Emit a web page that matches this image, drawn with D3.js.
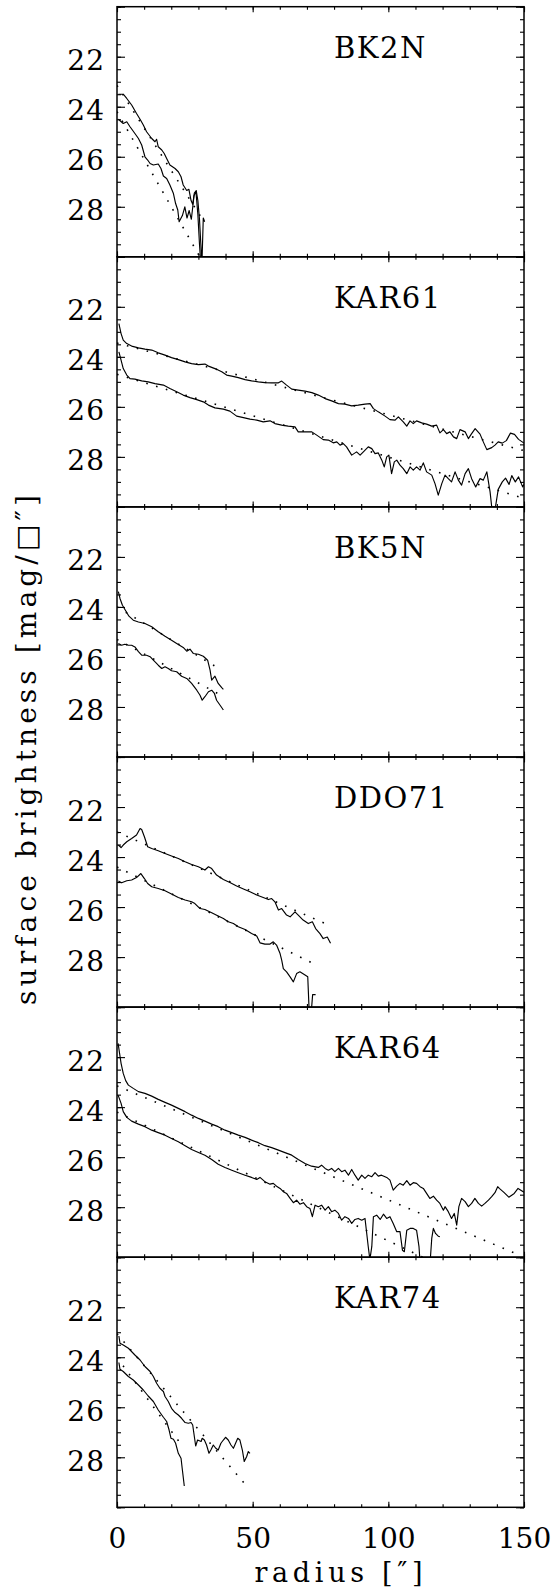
<!DOCTYPE html>
<html>
<head>
<meta charset="utf-8">
<script src="https://cdn.jsdelivr.net/npm/d3@7"></script>
<style>
  body { margin: 0; background: #fff; }
  text { font-family: "DejaVu Serif", serif; fill: #000; }
</style>
</head>
<body>
<div id="chart"></div>
<script>
// galaxy names, one panel each (top to bottom)
const galaxies = ["BK2N", "KAR61", "BK5N", "DDO71", "KAR64", "KAR74"];

// radius ["] vs surface brightness [mag/sq"] ; upper = brighter profile, lower = fainter
const bk2nUpper = [[0.5,23.5],[2.3,23.5],[3.6,23.67],[5.4,23.93],[7.2,24.27],[8.5,24.5],[9.7,24.73],[10.9,25.0],[12.8,25.27],[14.0,25.4],[14.6,25.3],[15.2,25.6],[16.5,25.73],[17.4,25.87],[18.3,26.07],[19.5,26.33],[21.4,26.47],[22.6,26.6],[23.6,26.8],[24.4,27.13],[25.7,27.35],[26.5,27.3],[27.3,27.75],[27.9,27.9],[28.5,27.45],[29.2,27.35],[29.8,27.75],[30.4,28.5],[30.9,29.5],[31.3,30.3],[31.8,28.45],[32.3,28.6]];
const bk2nLower = [[0.5,24.5],[2.3,24.67],[3.6,24.6],[4.8,24.8],[6.6,25.07],[7.9,25.27],[9.1,25.53],[10.3,26.0],[11.3,26.13],[12.2,26.27],[13.4,26.33],[15.2,26.29],[16.2,26.47],[17.1,26.77],[18.3,26.87],[19.5,27.13],[20.8,27.47],[21.6,27.87],[22.4,28.13],[22.9,28.6],[24.1,28.35],[25.0,28.0],[25.8,28.45],[26.6,28.15],[27.4,28.5],[28.4,27.55],[29.1,27.4],[29.8,28.3],[30.4,29.5],[30.9,30.3]];
const bk2nFitUpper = [[0,23.15],[31,28.42]];
const bk2nFitLower = [[0,24.2],[31,30.09]];

const kar61Upper = [[0.7,22.67],[1.5,23.07],[2.3,23.33],[3.6,23.47],[5.4,23.57],[7.9,23.64],[10.3,23.69],[12.8,23.73],[15.2,23.84],[17.7,23.93],[20.1,24.03],[22.6,24.11],[25.1,24.2],[27.5,24.27],[30,24.31],[32.4,24.29],[33.7,24.37],[36.1,24.47],[38.6,24.6],[40.4,24.73],[42.3,24.77],[44.7,24.83],[47.2,24.91],[49.6,24.96],[52.1,25.0],[54.5,25.03],[57,25.04],[59.5,25.04],[60.7,24.97],[62.5,25.13],[64.4,25.29],[66.8,25.33],[69.3,25.37],[71.8,25.43],[74.2,25.53],[76.7,25.67],[79.1,25.76],[81.6,25.87],[84,25.89],[86.5,25.96],[88.9,25.93],[91.4,25.89],[93.3,25.87],[94.5,26.07],[96.3,26.2],[98.8,26.37],[100.6,26.51],[102.5,26.53],[103.7,26.4],[105.5,26.6],[106.8,26.77],[108,26.56],[109.2,26.67],[110.4,26.56],[112.3,26.64],[114.1,26.69],[116,26.77],[117.8,26.73],[119,27.04],[120.3,26.91],[121.5,27.07],[122.7,27.0],[124,27.2],[125.2,27.27],[126.4,26.91],[128.3,27.0],[129.5,27.27],[130.7,27.07],[132,26.87],[133.8,27.09],[135,27.4],[136.3,27.71],[138.1,27.63],[139.3,27.53],[140.5,27.4],[142,27.45],[143.5,27.35],[145,27.05],[146.5,27.1],[148,27.3],[150,27.45]];
const kar61Lower = [[0.7,23.8],[1.5,24.13],[2.3,24.47],[3.6,24.73],[4.8,24.87],[6.6,24.89],[9.1,24.96],[11.5,25.0],[14,25.07],[17.1,25.13],[19.5,25.27],[22,25.4],[24.4,25.53],[26.9,25.63],[29.4,25.71],[31.8,25.8],[33.7,25.93],[36.1,26.04],[39.2,26.09],[41.6,26.17],[44.1,26.37],[46.6,26.43],[49,26.49],[51.5,26.53],[53.9,26.6],[56.4,26.56],[58.2,26.67],[60.7,26.73],[63.1,26.77],[65.6,26.8],[66.8,27.0],[69.3,27.0],[71.8,27.0],[73.6,27.13],[76,27.31],[77.9,27.33],[79.7,27.44],[81,27.4],[82.2,27.53],[83.4,27.47],[84.6,27.6],[86.5,27.93],[88.3,27.8],[89.6,27.93],[90.8,27.8],[92.6,27.6],[93.9,27.67],[95.1,27.87],[96.3,27.84],[97.6,28.13],[98.5,28.4],[99.4,28.0],[100.2,27.93],[101.2,28.67],[102.2,28.2],[103.1,28.13],[104.3,28.33],[105.5,28.47],[106.8,28.67],[108,28.4],[109.2,28.53],[110.4,28.4],[111.7,28.53],[112.9,28.24],[114.1,28.6],[116,28.73],[117.2,29.07],[118.4,29.53],[119.7,29.07],[120.9,28.73],[122.1,28.87],[123.3,29.0],[124.6,28.6],[125.8,28.93],[127,29.13],[128.3,28.67],[129.5,28.47],[130.7,28.87],[132.2,29.2],[133.8,28.87],[135,28.93],[136.3,28.6],[137.5,29.4],[138.3,30.2],[139.2,30.2],[140.5,29.3],[142,29.0],[143.2,28.85],[144.5,29.1],[145.5,28.75],[146.8,29.0],[148,28.8],[149.5,29.2],[150,29.1]];
const kar61FitUpper = [[0,23.45],[150,27.75]];
const kar61FitLower = [[0,24.7],[150,29.66]];

const bk5nUpper = [[0.5,23.39],[1.1,23.66],[2,23.93],[3.2,24.15],[4.4,24.37],[6,24.53],[7.9,24.6],[10.3,24.66],[12.8,24.79],[15.2,24.99],[17.7,25.17],[20.1,25.33],[22,25.46],[24.4,25.62],[25.7,25.77],[26.9,25.69],[28.1,25.86],[30,25.89],[31.8,25.97],[33.4,26.13],[34.3,26.53],[34.9,26.93],[36.1,26.77],[37.3,27.06],[38.6,27.23],[39.2,27.3]];
const bk5nLower = [[0.5,25.46],[1.7,25.53],[2.9,25.49],[4.2,25.53],[5.4,25.53],[6.6,25.6],[7.9,25.79],[9.1,25.93],[10.9,25.93],[12.2,25.99],[13.4,26.13],[15.2,26.33],[16.5,26.46],[17.7,26.39],[18.9,26.46],[20.1,26.55],[22,26.59],[23.8,26.77],[25.7,26.86],[27.5,27.06],[29.4,27.33],[30.6,27.53],[31.4,27.73],[32.4,27.59],[33.7,27.39],[34.9,27.33],[35.9,27.46],[36.7,27.73],[38,27.93],[39.2,28.12]];
const bk5nFitUpper = [[0,24.0],[36.6,26.4]];
const bk5nFitLower = [[0,25.3],[37,27.45]];

const ddo71Upper = [[0.5,23.52],[1.5,23.62],[2.3,23.52],[3.6,23.39],[5.4,23.26],[7.2,23.12],[8.5,22.86],[9.1,22.9],[10.1,23.19],[11.3,23.59],[12.8,23.66],[15.2,23.75],[17.7,23.86],[20.1,23.96],[22.6,24.06],[25.1,24.19],[27.5,24.3],[30,24.39],[32.4,24.52],[33.7,24.39],[34.9,24.46],[36.7,24.72],[39.2,24.9],[41.6,25.02],[44.1,25.16],[46.6,25.28],[49,25.39],[51.5,25.52],[53.9,25.62],[55.8,25.7],[57,25.66],[58.2,25.79],[59.5,26.12],[60.7,26.06],[62.5,26.32],[63.8,26.39],[65.6,26.19],[66.8,26.32],[68.6,26.52],[70.5,26.66],[72,26.59],[73.2,26.86],[74.8,27.06],[76,27.26],[77.5,27.2],[78.7,27.45]];
const ddo71Lower = [[0.5,24.96],[1.7,25.03],[3.6,24.95],[5.4,24.92],[7.2,24.82],[8.8,24.66],[10.1,24.86],[11.3,25.06],[12.8,25.19],[15.2,25.26],[17.7,25.35],[20.1,25.48],[22.6,25.62],[25.1,25.72],[27.5,25.79],[28.7,25.86],[30.6,26.06],[32.4,26.1],[34.9,26.23],[37.3,26.36],[39.2,26.46],[41,26.59],[42.9,26.66],[44.7,26.79],[47.2,26.9],[49.6,27.06],[51.5,27.16],[52.7,27.43],[54.5,27.48],[56.4,27.48],[57.6,27.39],[58.8,27.52],[60.1,27.86],[60.7,28.12],[61.3,28.46],[62.5,28.59],[63.8,28.79],[65,28.99],[66.2,28.66],[67.4,28.59],[69.3,28.72],[70.3,28.79],[70.8,30.1],[71.6,30.2],[72.1,29.5],[73.2,29.5]];
const ddo71FitUpper = [[0,23.0],[78,26.72]];
const ddo71FitLower = [[0,24.4],[72.8,28.28]];

const kar64Upper = [[0.4,21.45],[1.5,22.25],[2.3,22.65],[3.2,22.94],[4.2,23.12],[6,23.25],[7.9,23.38],[10.3,23.45],[12.8,23.56],[15.2,23.69],[17.7,23.81],[20.1,23.92],[22.6,24.05],[25.1,24.18],[27.5,24.32],[30,24.45],[32.4,24.56],[34.9,24.68],[37.3,24.78],[39.8,24.92],[42.3,25.02],[44.7,25.12],[47.2,25.21],[49.6,25.32],[52.1,25.42],[54.5,25.54],[57,25.62],[59.5,25.72],[61.9,25.82],[64.4,25.92],[66.8,26.09],[69.3,26.25],[71.7,26.36],[74.2,26.41],[75.4,26.32],[76.7,26.45],[77.9,26.52],[79.1,26.45],[80.3,26.58],[81.6,26.45],[82.8,26.58],[84,26.52],[85.3,26.72],[86.5,26.49],[87.7,26.72],[88.9,26.92],[90.2,26.72],[91.4,26.85],[92.6,26.72],[93.9,26.78],[95.1,26.62],[96.3,26.76],[97.5,26.72],[99.4,26.81],[100.6,26.92],[101.8,27.32],[103.1,27.16],[104.3,27.05],[105.5,27.12],[106.8,26.94],[108,27.12],[109.2,27.02],[110.4,27.05],[111.7,27.18],[112.9,27.25],[114.1,27.45],[115.3,27.65],[116.6,27.56],[117.8,27.72],[119,27.85],[120.3,28.12],[120.9,27.98],[122.1,28.18],[123.3,28.45],[124.3,28.25],[125.2,28.72],[126,27.98],[127,27.65],[128.3,27.78],[129.5,27.98],[130.7,27.85],[131.9,27.65],[133.2,27.85],[134.4,27.96],[135.6,27.85],[136.9,27.72],[138.1,27.58],[139.3,27.42],[140.3,27.18],[140.9,27.25],[142.5,27.4],[144.4,27.6],[146.4,27.45],[147.8,27.25],[150,27.4]];
const kar64Lower = [[0.4,23.52],[1.5,23.85],[2.3,24.18],[3.6,24.41],[5.4,24.56],[7.9,24.68],[10.3,24.78],[12.8,24.92],[15.2,25.02],[17.7,25.12],[20.1,25.25],[22.6,25.38],[25.1,25.54],[27.5,25.69],[30,25.81],[32.4,25.92],[34.9,26.09],[37.3,26.28],[39.8,26.41],[42.3,26.52],[44.7,26.62],[47.2,26.72],[49.6,26.81],[51.5,26.89],[52.7,26.81],[54.5,26.98],[56.4,27.08],[57.6,27.05],[58.8,27.16],[60.1,27.25],[61.3,27.38],[62.5,27.45],[63.8,27.65],[65,27.82],[66.2,27.72],[67.4,27.88],[68.7,27.82],[69.9,27.98],[71.1,28.05],[72,28.38],[73,27.92],[74.2,27.98],[75.4,27.92],[76.7,28.12],[77.9,27.98],[79.1,28.18],[80.3,28.12],[81.6,28.25],[82.8,28.52],[84,28.38],[85.3,28.45],[86.5,28.65],[87.7,28.49],[88.9,28.45],[90.2,28.52],[91.4,28.45],[92.6,29.58],[93.2,30.1],[93.9,29.58],[94.5,28.38],[95.7,28.32],[97,28.49],[98.2,28.28],[99.4,28.45],[100.6,28.38],[101.8,28.65],[103.1,28.98],[104.3,28.98],[105.2,29.72],[105.9,29.78],[106.8,28.92],[108,28.85],[109.2,28.85],[110.4,28.92],[111.3,29.58],[111.7,30.2],[115.4,30.2],[116,29.25],[116.6,28.85],[117.4,29.05],[118.4,29.16],[119,29.18]];
const kar64FitUpper = [[0,23.15],[148,29.9]];
const kar64FitLower = [[0,24.2],[116,30.17]];

const kar74Upper = [[0.7,23.15],[1.1,23.44],[2.3,23.51],[4.2,23.64],[6.6,23.91],[8.5,24.11],[10.3,24.37],[12.2,24.57],[13.4,24.77],[14.6,25.04],[15.8,25.24],[17.1,25.37],[17.7,25.57],[18.9,25.77],[20.1,26.04],[21.4,26.21],[22.6,26.31],[23.8,26.44],[25.1,26.61],[26.3,26.64],[27.3,26.61],[27.9,26.71],[28.5,27.17],[29,27.55],[29.7,27.31],[31,27.37],[31.4,27.24],[32.2,27.31],[33,27.51],[33.9,27.84],[34.6,27.71],[35.5,27.51],[36.4,27.64],[37.3,27.71],[38.3,27.44],[39.2,27.31],[40,27.2],[41,27.31],[42,27.51],[42.9,27.64],[43.7,27.44],[44.5,27.24],[45.3,27.31],[46.2,27.71],[46.9,28.17],[47.8,27.97],[48.4,27.77],[49,27.84]];
const kar74Lower = [[0.7,24.21],[1.1,24.48],[2.3,24.57],[4.2,24.77],[6,24.91],[7.9,25.11],[9.7,25.31],[11.5,25.55],[13.4,25.77],[15.2,26.11],[17.1,26.4],[18.3,26.57],[19.2,26.91],[19.9,27.24],[20.8,27.28],[21.6,27.44],[22.6,27.84],[23.6,28.04],[24.1,28.51],[24.8,29.15]];
const kar74FitUpper = [[0,23.06],[48,29.18]];
const kar74FitLower = [[0,24.01],[24,27.54]];

// tick labels
const yTickLabels = [22, 24, 26, 28];
const xTickLabels = [0, 50, 100, 150];

const panels = [
  { name: galaxies[0], profiles: [bk2nUpper, bk2nLower], fits: [bk2nFitUpper, bk2nFitLower] },
  { name: galaxies[1], profiles: [kar61Upper, kar61Lower], fits: [kar61FitUpper, kar61FitLower] },
  { name: galaxies[2], profiles: [bk5nUpper, bk5nLower], fits: [bk5nFitUpper, bk5nFitLower] },
  { name: galaxies[3], profiles: [ddo71Upper, ddo71Lower], fits: [ddo71FitUpper, ddo71FitLower] },
  { name: galaxies[4], profiles: [kar64Upper, kar64Lower], fits: [kar64FitUpper, kar64FitLower] },
  { name: galaxies[5], profiles: [kar74Upper, kar74Lower], fits: [kar74FitUpper, kar74FitLower] }
];

const w = 554;
const h = 1593;
const margin = { top: 6.7, right: 30, bottom: 85, left: 117 };
const panelH = 250.1;

const svg = d3.select("#chart")
  .append("svg")
  .attr("width", w)
  .attr("height", h);

const x = d3.scaleLinear().domain([0, 150]).range([margin.left, w - margin.right]);
const y = d3.scaleLinear().domain([20, 30]).range([0, panelH]);

const line = d3.line()
  .x(d => x(d[0]))
  .y(d => y(d[1]));

const yMinor = d3.range(20, 30.01, 0.5);
const yMajor = d3.range(20, 30.01, 2);
const xMinor = d3.range(0, 150.01, 10);
const xMajor = d3.range(0, 150.01, 50);

panels.forEach((p, i) => {
  const top = margin.top + i * panelH;
  const g = svg.append("g").attr("transform", `translate(0, ${top})`);

  g.append("clipPath")
    .attr("id", `clip${i}`)
    .append("rect")
    .attr("x", x(0))
    .attr("y", 0)
    .attr("width", x(150) - x(0))
    .attr("height", panelH);

  const plot = g.append("g").attr("clip-path", `url(#clip${i})`);

  plot.selectAll("path.prof")
    .data(p.profiles)
    .enter()
    .append("path")
    .attr("class", "prof")
    .attr("d", line)
    .attr("fill", "none")
    .attr("stroke", "#000")
    .attr("stroke-width", 1.15)
    .attr("stroke-linejoin", "round");

  plot.selectAll("path.fit")
    .data(p.fits)
    .enter()
    .append("path")
    .attr("class", "fit")
    .attr("d", line)
    .attr("fill", "none")
    .attr("stroke", "#000")
    .attr("stroke-width", 1.6)
    .attr("stroke-dasharray", "1.6,8.6");

  // inward ticks on all four sides
  const axes = [
    [d3.axisLeft(y).tickValues(yMinor).tickSize(-4), x(0), 0],
    [d3.axisLeft(y).tickValues(yMajor).tickSize(-8), x(0), 0],
    [d3.axisRight(y).tickValues(yMinor).tickSize(-4), x(150), 0],
    [d3.axisRight(y).tickValues(yMajor).tickSize(-8), x(150), 0],
    [d3.axisTop(x).tickValues(xMinor).tickSize(-3), 0, 0],
    [d3.axisTop(x).tickValues(xMajor).tickSize(-5.5), 0, 0],
    [d3.axisBottom(x).tickValues(xMinor).tickSize(-3), 0, panelH],
    [d3.axisBottom(x).tickValues(xMajor).tickSize(-5.5), 0, panelH]
  ];
  axes.forEach(([ax, tx, ty]) => {
    const a = g.append("g")
      .attr("transform", `translate(${tx}, ${ty})`)
      .call(ax.tickFormat(""));
    a.select(".domain").remove();
    a.selectAll("line").attr("stroke", "#000").attr("stroke-width", 1.1);
  });

  // y tick labels
  const yl = g.append("g")
    .attr("transform", `translate(${x(0)}, 0)`)
    .call(d3.axisLeft(y).tickValues(yTickLabels).tickSize(0).tickPadding(12));
  yl.select(".domain").remove();
  yl.selectAll("text")
    .attr("dy", 13)
    .style("font-family", "DejaVu Serif")
    .style("font-size", "28px")
    .style("letter-spacing", "1px");

  // frame
  g.append("rect")
    .attr("x", x(0))
    .attr("y", 0)
    .attr("width", x(150) - x(0))
    .attr("height", panelH)
    .attr("fill", "none")
    .attr("stroke", "#000")
    .attr("stroke-width", 1.5);

  g.append("text")
    .attr("x", x(80))
    .attr("y", 51)
    .text(p.name)
    .style("font-size", "29px")
    .style("letter-spacing", "1.5px");

  if (i === panels.length - 1) {
    const xl = g.append("g")
      .attr("transform", `translate(0, ${panelH})`)
      .call(d3.axisBottom(x).tickValues(xTickLabels).tickSize(0).tickFormat(d3.format("d")));
    xl.select(".domain").remove();
    xl.selectAll("text")
      .attr("y", 41)
      .attr("dy", 0)
      .style("font-family", "DejaVu Serif")
      .style("font-size", "28px");
  }
});

const plotBottom = margin.top + panels.length * panelH;

svg.append("text")
  .attr("x", (x(0) + x(150)) / 2 + 18)
  .attr("y", plotBottom + 75)
  .attr("text-anchor", "middle")
  .attr("textLength", 168)
  .attr("lengthAdjust", "spacing")
  .style("font-size", "27px")
  .text("radius [\u2033]");

svg.append("text")
  .attr("transform", `translate(36, ${(margin.top + plotBottom) / 2 - 7}) rotate(-90)`)
  .attr("text-anchor", "middle")
  .attr("textLength", 510)
  .attr("lengthAdjust", "spacing")
  .style("font-size", "28px")
  .text("surface brightness [mag/\u25A1\u2033]");
</script>
</body>
</html>
